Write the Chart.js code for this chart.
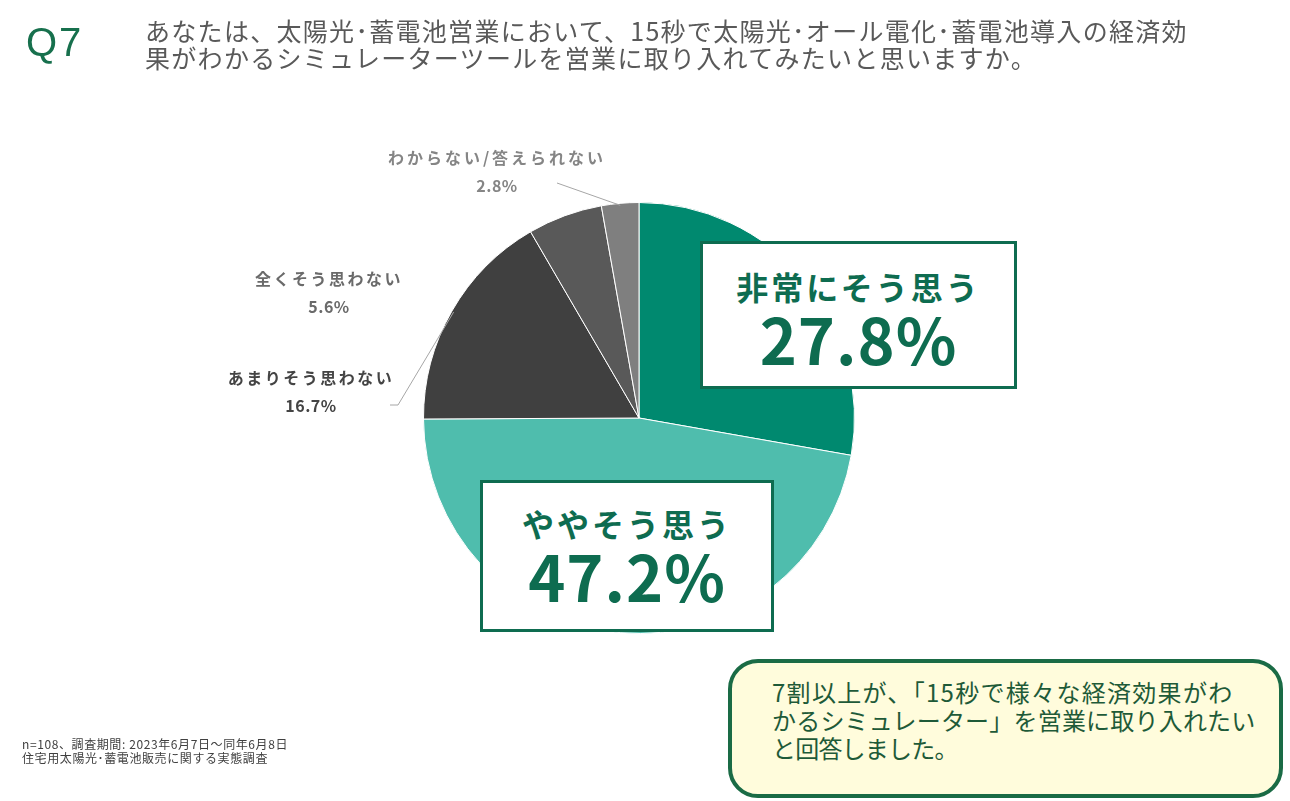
<!DOCTYPE html>
<html lang="ja">
<head>
<meta charset="utf-8">
<script src="https://cdn.jsdelivr.net/npm/chart.js@4.4.1/dist/chart.umd.min.js"></script>
<style>
    html, body {
        margin: 0;
        padding: 0;
        background: #ffffff;
        width: 1290px;
        height: 801px;
        overflow: hidden;
        font-family: "Noto Sans CJK JP", "Noto Sans", sans-serif;
    }
    #wrap {
        position: relative;
        width: 1290px;
        height: 801px;
    }
    #pie {
        position: absolute;
        left: 0;
        top: 0;
    }
    .abs { position: absolute; white-space: nowrap; }
    #qno {
        left: 26px; top: 20px;
        font-family: "Liberation Sans", sans-serif;
        font-size: 40px; color: #17704d;
        letter-spacing: 2px;
    }
    #question {
        left: 145px; top: 17px;
        font-size: 25px; line-height: 27px; color: #595959;
        letter-spacing: 1.3px;
    }
    .outer {
        font-weight: bold; font-size: 16px; text-align: center;
        line-height: 28px;
    }
    .outer .nm { letter-spacing: 2.5px; }
    .outer .pv { letter-spacing: 0.5px; }
    .box {
        position: absolute;
        border: 3px solid #0e6c50;
        background: #ffffff;
        color: #0e6c50;
        text-align: center;
        font-weight: bold;
        box-sizing: border-box;
    }
    .box .name { font-size: 32px; letter-spacing: 3px; line-height: 40px; }
    .box .pct { font-size: 63px; line-height: 64px; letter-spacing: 1px; }
    #foot {
        left: 22px; top: 737px;
        font-size: 12px; line-height: 14px; color: #404040;
        letter-spacing: 0.6px;
    }
    #note {
        left: 728px; top: 659px; width: 555px; height: 139px;
        box-sizing: border-box;
        border: 4px solid #1a6b45; border-radius: 30px;
        background: #fffcdc;
        color: #1e5a38;
        font-size: 24px; line-height: 28px;
        padding: 15px 0 0 40px;
        white-space: nowrap;
        letter-spacing: 1.3px;
    }
</style>
</head>
<body>
<div id="wrap">
    <canvas id="pie" width="1290" height="801"></canvas>

    <div id="qno" class="abs">Q7</div>
    <div id="question" class="abs">あなたは、太陽光･蓄電池営業において、15秒で太陽光･オール電化･蓄電池導入の経済効<br>果がわかるシミュレーターツールを営業に取り入れてみたいと思いますか。</div>

    <div class="abs outer" style="left:372px; top:143px; width:250px; color:#858585;"><span class="nm" style="letter-spacing:3px;">わからない/答えられない</span><br><span class="pv">2.8%</span></div>
    <div class="abs outer" style="left:229px; top:264px; width:200px; color:#6a6a6a;"><span class="nm">全くそう思わない</span><br><span class="pv">5.6%</span></div>
    <div class="abs outer" style="left:211px; top:363px; width:200px; color:#444444;"><span class="nm">あまりそう思わない</span><br><span class="pv">16.7%</span></div>

    <div class="box" style="left:700px; top:241px; width:317px; height:148px; padding-top:22px;">
        <div class="name">非常にそう思う</div>
        <div class="pct">27.8%</div>
    </div>
    <div class="box" style="left:480px; top:480px; width:294px; height:152px; padding-top:20px;">
        <div class="name">ややそう思う</div>
        <div class="pct">47.2%</div>
    </div>

    <div id="foot" class="abs">n=108、調査期間: 2023年6月7日～同年6月8日<br>住宅用太陽光･蓄電池販売に関する実態調査</div>

    <div id="note" class="abs">7割以上が、「15秒で様々な経済効果がわ<br><span style="letter-spacing:0.2px;">かるシミュレーター」を営業に取り入れたい</span><br><span style="letter-spacing:-0.8px;">と回答しました。</span></div>
</div>

<script>
// Answers and shares (%), clockwise from 12 o'clock
const categories = ['非常にそう思う', 'ややそう思う', 'あまりそう思わない', '全くそう思わない', 'わからない/答えられない'];
const shares = [27.8, 47.2, 16.7, 5.6, 2.8];
const sliceColors = ['#00896f', '#4fbdad', '#404040', '#595959', '#7f7f7f'];

// Leader lines: slice index -> bend points toward the outside label
const leaders = {
    2: [[398, 405], [390, 405]],
    4: [[557, 183]]
};

const leaderPlugin = {
    id: 'leaders',
    afterDatasetsDraw(chart) {
        const ctx = chart.ctx;
        const arcs = chart.getDatasetMeta(0).data;
        ctx.save();
        ctx.strokeStyle = '#a6a6a6';
        ctx.lineWidth = 1;
        Object.keys(leaders).forEach(key => {
            const arc = arcs[key];
            const mid = (arc.startAngle + arc.endAngle) / 2;
            const r = arc.outerRadius - 2;
            ctx.beginPath();
            ctx.moveTo(arc.x + Math.cos(mid) * r, arc.y + Math.sin(mid) * r);
            leaders[key].forEach(p => ctx.lineTo(p[0], p[1]));
            ctx.stroke();
        });
        ctx.restore();
    }
};

new Chart(document.getElementById('pie').getContext('2d'), {
    type: 'pie',
    data: {
        labels: categories,
        datasets: [{
            data: shares,
            backgroundColor: sliceColors,
            borderColor: '#ffffff',
            borderWidth: 1
        }]
    },
    options: {
        responsive: false,
        animation: false,
        layout: {
            padding: { left: 423, right: 435, top: 202, bottom: 167 }
        },
        plugins: {
            legend: { display: false },
            tooltip: { enabled: false }
        }
    },
    plugins: [leaderPlugin]
});
</script>
</body>
</html>
